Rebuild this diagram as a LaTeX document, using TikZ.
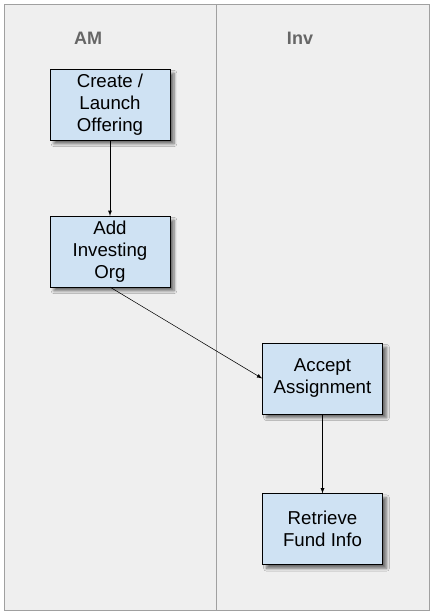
\documentclass[tikz,border=0pt]{standalone}
\usepackage{fontspec}
\setmainfont{Liberation Sans}
\usetikzlibrary{shadows.blur}
\definecolor{lanebg}{HTML}{EFEFEF}
\definecolor{laneline}{HTML}{A0A0A0}
\definecolor{boxfill}{HTML}{CFE2F3}
\definecolor{headgray}{HTML}{666666}
\tikzset{
  stepbox/.style={draw=black, fill=boxfill, minimum width=90pt, minimum height=53pt,
    inner sep=2pt, align=center, font=\fontsize{14}{16.5}\selectfont,
    blur shadow={shadow xshift=3pt, shadow yshift=-3pt, shadow blur steps=6, shadow opacity=55}},
  lanehead/.style={font=\fontsize{13.5}{16}\selectfont\bfseries, text=headgray}
}
\begin{document}
\begin{tikzpicture}[x=0.75pt, y=-0.75pt, >=latex]
\useasboundingbox (0,0) rectangle (433,614);

% swimlanes
\draw[laneline, fill=lanebg] (4,4) rectangle (429,610);
\draw[laneline] (216,4)--(216,610);
\node[lanehead] (am) at (88,38) {AM};
\node[lanehead] (inv) at (300,38) {Inv};

% steps
\node[stepbox] (create) at (110,104.5) {Create /\\Launch\\Offering};
\node[stepbox] (addorg) at (110,251.5) {Add\\Investing\\Org};
\node[stepbox] (accept) at (322.5,378.5) {Accept\\Assignment};
\node[stepbox] (fund) at (322.5,529) {Retrieve\\Fund Info};

% flow
\draw[->] (create)--(addorg);
\draw[->] (addorg.south)--(accept.west);
\draw[->] (accept)--(fund);

\end{tikzpicture}
\end{document}
